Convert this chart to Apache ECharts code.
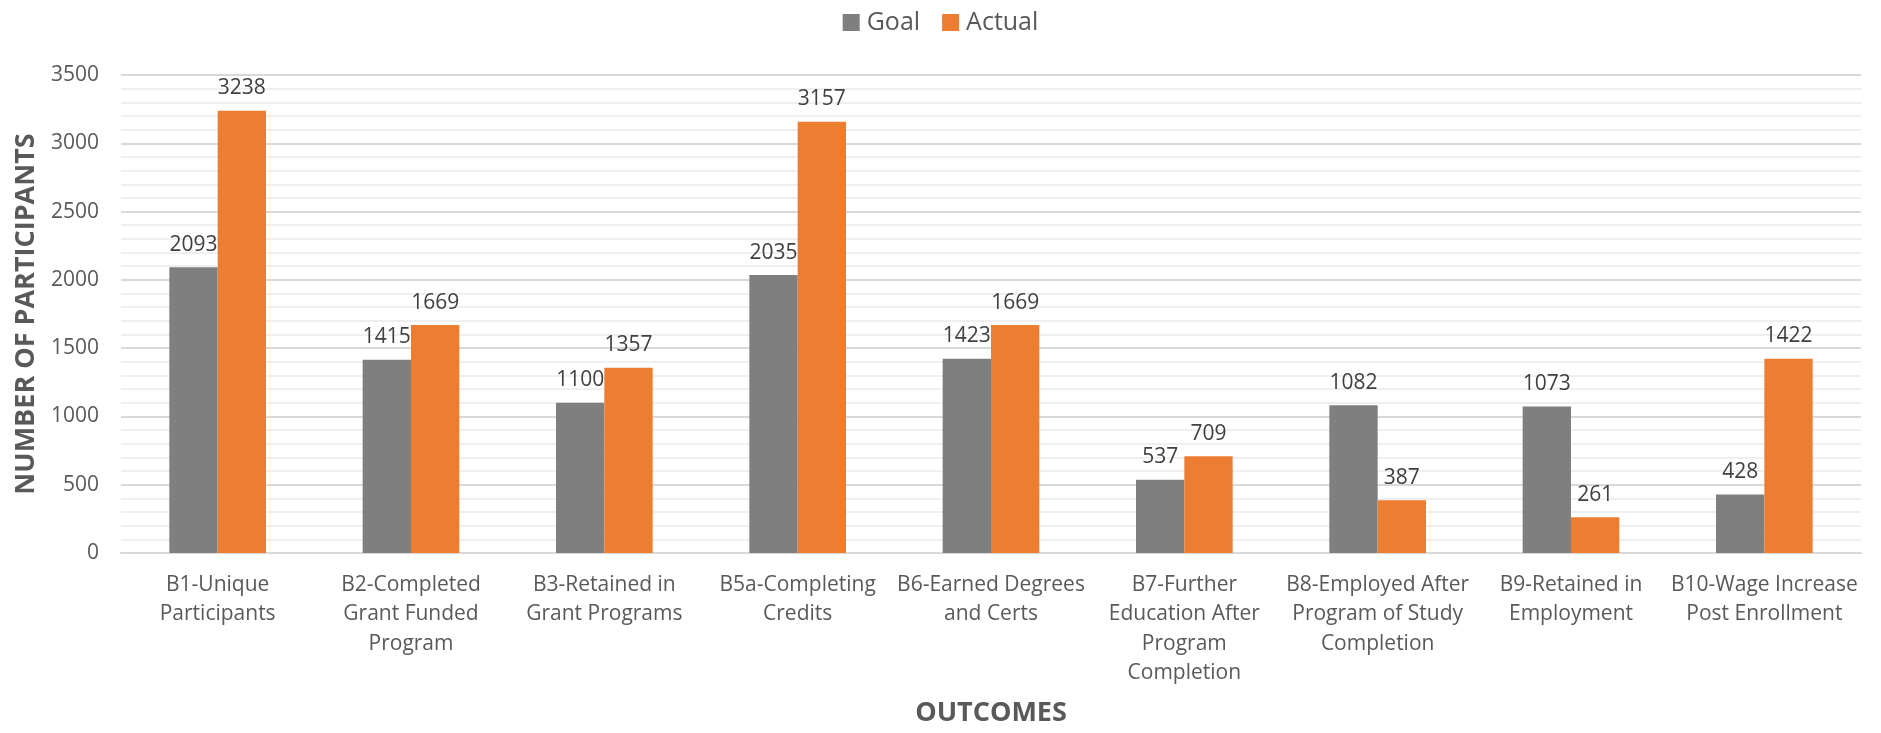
<!DOCTYPE html>
<html>
<head>
<meta charset="utf-8">
<script src="https://cdn.jsdelivr.net/npm/echarts@6/dist/echarts.min.js"></script>
<style>
  html, body { margin: 0; padding: 0; background: #fff; }
  #chart { width: 1881px; height: 733px; }
</style>
</head>
<body>
<div id="chart"></div>
<script>
const categories = [
  'B1-Unique\nParticipants',
  'B2-Completed\nGrant Funded\nProgram',
  'B3-Retained in\nGrant Programs',
  'B5a-Completing\nCredits',
  'B6-Earned Degrees\nand Certs',
  'B7-Further\nEducation After\nProgram\nCompletion',
  'B8-Employed After\nProgram of Study\nCompletion',
  'B9-Retained in\nEmployment',
  'B10-Wage Increase\nPost Enrollment'
]
const goal = [2093, 1415, 1100, 2035, 1423, 537, 1082, 1073, 428]
const actual = [3238, 1669, 1357, 3157, 1669, 709, 387, 261, 1422]

const font = 'Open Sans'
const textColor = '#595959'

const chart = echarts.init(document.getElementById('chart'))

const barLabel = {
  show: true,
  position: 'top',
  distance: 12,
  color: '#404040',
  fontFamily: font,
  fontSize: 21
}

chart.setOption({
  animation: false,
  backgroundColor: '#fff',
  textStyle: { fontFamily: font },
  legend: {
    top: 5,
    left: 'center',
    itemWidth: 17,
    itemHeight: 17,
    itemGap: 22,
    icon: 'rect',
    textStyle: { color: textColor, fontFamily: font, fontSize: 25, padding: [0, 0, 0, 2] },
    data: ['Goal', 'Actual']
  },
  grid: { left: 121, right: 20, top: 75, bottom: 180 },
  xAxis: {
    type: 'category',
    data: categories,
    name: 'OUTCOMES',
    nameLocation: 'middle',
    nameGap: 147,
    nameTextStyle: { color: textColor, fontFamily: font, fontSize: 27, fontWeight: 'bold' },
    axisLine: { lineStyle: { color: '#d9d9d9', width: 2 } },
    axisTick: { show: false },
    axisLabel: {
      interval: 0,
      margin: 17,
      color: textColor,
      fontFamily: font,
      fontSize: 21,
      lineHeight: 29.5,
      align: 'center'
    }
  },
  yAxis: {
    type: 'value',
    min: 0,
    max: 3500,
    interval: 500,
    name: 'NUMBER OF PARTICIPANTS',
    nameLocation: 'middle',
    nameGap: 80,
    nameTextStyle: { color: textColor, fontFamily: font, fontSize: 27, fontWeight: 'bold' },
    axisLine: { show: false },
    axisTick: { show: false },
    axisLabel: { color: textColor, fontFamily: font, fontSize: 21, margin: 22, formatter: v => String(v) },
    splitLine: { lineStyle: { color: '#d9d9d9', width: 2 } },
    minorTick: { show: false, splitNumber: 5 },
    minorSplitLine: { show: true, lineStyle: { color: '#efefef', width: 2 } }
  },
  series: [
    {
      name: 'Goal',
      type: 'bar',
      data: goal,
      barGap: '0%',
      barCategoryGap: '50%',
      itemStyle: { color: '#7f7f7f' },
      label: barLabel
    },
    {
      name: 'Actual',
      type: 'bar',
      data: actual,
      barGap: '0%',
      barCategoryGap: '50%',
      itemStyle: { color: '#ed7d31' },
      label: barLabel
    }
  ]
})
</script>
</body>
</html>
